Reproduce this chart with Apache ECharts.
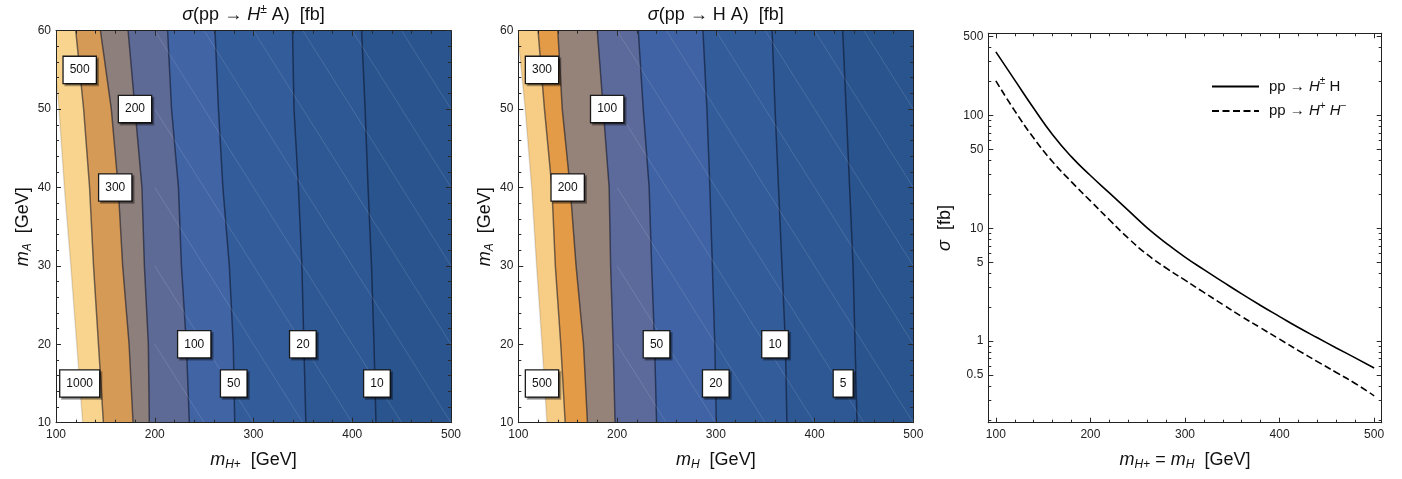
<!DOCTYPE html>
<html><head><meta charset="utf-8">
<script src="https://cdn.jsdelivr.net/npm/echarts@6/dist/echarts.min.js"></script>
<style>html,body{margin:0;padding:0;background:#fff}#c{width:1402px;height:479px}</style>
</head><body><div id="c"></div>
<script>
// ---------------- data ----------------
// contour positions: m_H(+) value [GeV] where each contour crosses m_A = 10,20,...,60
const mASamples = [10, 20, 30, 40, 50, 60];

// Left panel: sigma(pp -> H± A) [fb]
const hcLevels = ['1000', '500', '300', '200', '100', '50', '20', '10'];
const hc1000 = [127, 121, 115, 108.5, 103, 96];
const hc500  = [148, 143, 138, 134, 128, 120];
const hc300  = [178, 174, 167.5, 163, 156, 145];
const hc200  = [194.5, 193.5, 189.5, 187, 180, 173];
const hc100  = [235, 232, 227, 224, 217, 213];
const hc50   = [281, 279.5, 275.5, 269, 264.5, 261];
const hc20   = [353, 351, 349, 345.5, 341, 339.5];
const hc10   = [424, 422, 419.5, 416, 413, 409.5];
// label positions [m_H+, m_A, text]
const hcLabels = [[124, 55, '500'], [180, 50, '200'], [160, 40, '300'], [240, 20, '100'],
                  [350, 20, '20'], [124, 15, '1000'], [280, 15, '50'], [425, 15, '10']];

// Middle panel: sigma(pp -> H A) [fb]
const haLevels = ['500', '300', '200', '100', '50', '20', '10', '5'];
const ha500 = [129, 124, 118.5, 113.5, 107, 99];
const ha300 = [147.5, 143, 137.5, 134, 126.5, 120];
const ha200 = [170, 166, 158.5, 152.5, 144.5, 140];
const ha100 = [198, 196, 193.5, 192, 186, 180];
const ha50  = [240, 238, 235, 232.5, 226.5, 221.5];
const ha20  = [300.5, 299, 296.5, 294, 291, 287];
const ha10  = [372, 370.5, 367, 363.5, 360, 357];
const ha5   = [443, 441, 439, 435.5, 432, 428.5];
const haLabels = [[124, 55, '300'], [190, 50, '100'], [150, 40, '200'], [240, 20, '50'],
                  [360, 20, '10'], [124, 15, '500'], [300, 15, '20'], [429, 15, '5']];

// sampling mesh of the contour plots (faint triangulation lines)
const meshM = [200, 250, 300, 350, 400, 450];
const meshA = [10, 20, 30, 40, 50];

// Right panel: sigma vs m_H+ = m_H
const massPoints = [100, 120, 140, 160, 180, 200, 220, 240, 260, 280, 300, 320, 340, 360, 380, 400, 420, 440, 460, 480, 500];
const sigmaHpH   = [367, 206, 116, 67.5, 43, 29.4, 20.6, 14.4, 10.1, 7.4, 5.56, 4.3, 3.35, 2.62, 2.07, 1.65, 1.32, 1.07, 0.87, 0.71, 0.578];
const sigmaHpHm  = [203, 110, 63.1, 38.9, 25.8, 17.5, 11.9, 8.17, 5.86, 4.45, 3.47, 2.70, 2.11, 1.65, 1.31, 1.04, 0.824, 0.658, 0.527, 0.421, 0.327];

// tick values
const lineXMajor = [100, 200, 300, 400, 500];
const lineXMinor = [120, 140, 160, 180, 220, 240, 260, 280, 320, 340, 360, 380, 420, 440, 460, 480];
const lineYMajor = [0.5, 1, 5, 10, 50, 100, 500];
const lineYMinor = [0.2, 0.3, 0.4, 0.6, 0.7, 0.8, 0.9, 2, 3, 4, 6, 7, 8, 9, 20, 30, 40, 60, 70, 80, 90, 200, 300, 400];

// ---------------- styling ----------------
const FONT = 'Liberation Sans, Arial, sans-serif';
const hcColors = ['#F9D48E', '#D69A57', '#8D7F7C', '#5E6A96', '#4164A5', '#335C9A', '#2E5894', '#2A548E'];
const haColors = ['#F7CD86', '#E39B48', '#958279', '#5C6A9B', '#3F63A4', '#335C9A', '#2E5894', '#2A548E'];
const TICK = '#2a2a2a';

const grids = [
  {left: 56, top: 30.7, width: 395, height: 392},
  {left: 518.3, top: 30.7, width: 395, height: 392},
  {left: 988.3, top: 33.3, width: 393.4, height: 389.4}
];

const base = {fontFamily: FONT, color: '#111', fontWeight: 'normal'};
const rich = {
  n: Object.assign({fontSize: 18, lineHeight: 22}, base),
  i: Object.assign({fontSize: 18, lineHeight: 22, fontStyle: 'italic'}, base),
  sup: Object.assign({fontSize: 12, lineHeight: 12, verticalAlign: 'top'}, base),
  sub: Object.assign({fontSize: 12, lineHeight: 12, verticalAlign: 'bottom'}, base),
  subi: Object.assign({fontSize: 12, lineHeight: 12, verticalAlign: 'bottom', fontStyle: 'italic'}, base)
};
const legendRich = {
  n: Object.assign({fontSize: 15, lineHeight: 20}, base),
  g: Object.assign({fontSize: 15, lineHeight: 20, width: 5}, base),
  i: Object.assign({fontSize: 15, lineHeight: 20, fontStyle: 'italic'}, base),
  sup: Object.assign({fontSize: 10, lineHeight: 12, verticalAlign: 'top'}, base)
};

function contourAxes(g, xName) {
  const common = {
    gridIndex: g, type: 'value', z: 5,
    axisLine: {show: true, lineStyle: {color: '#222', width: 1}},
    splitLine: {show: false},
    axisTick: {show: true, inside: true, length: 5, lineStyle: {color: TICK}},
    minorTick: {show: true, splitNumber: 5, length: 3, lineStyle: {color: TICK}}
  };
  const xb = Object.assign({}, common, {
    min: 100, max: 500, interval: 100, position: 'bottom',
    axisLabel: {color: '#222', fontSize: 12, fontFamily: FONT, margin: 6},
    name: xName, nameLocation: 'middle', nameGap: 26, nameTextStyle: {rich: rich}
  });
  const xt = Object.assign({}, common, {min: 100, max: 500, interval: 100, position: 'top', axisLabel: {show: false}});
  const yl = Object.assign({}, common, {
    min: 10, max: 60, interval: 10, position: 'left',
    axisLabel: {color: '#222', fontSize: 12, fontFamily: FONT, margin: 5},
    name: '{i|m}{subi|A}{n|  [GeV]}', nameLocation: 'middle', nameRotate: 90, nameGap: 22,
    nameTextStyle: {rich: rich}
  });
  const yr = Object.assign({}, common, {min: 10, max: 60, interval: 10, position: 'right', axisLabel: {show: false}});
  return {x: [xb, xt], y: [yl, yr]};
}

const xAxes = [], yAxes = [];
const a0 = contourAxes(0, '{i|m}{subi|H}{sub|+}{n|  [GeV]}');
const a1 = contourAxes(1, '{i|m}{subi|H}{n|  [GeV]}');
xAxes.push(...a0.x, ...a1.x); // 0,1 | 2,3
yAxes.push(...a0.y, ...a1.y); // 0,1 | 2,3

// right panel axes
const lineBase = {gridIndex: 2, z: 5, splitLine: {show: false}, axisLine: {show: true, lineStyle: {color: '#222', width: 1}}};
function lx(pos, vals, len, labels) {
  return Object.assign({}, lineBase, {
    type: 'value', min: 92, max: 508, position: pos,
    axisTick: {inside: true, length: len, customValues: vals, lineStyle: {color: TICK}},
    axisLabel: labels ? {customValues: vals, color: '#222', fontSize: 12, fontFamily: FONT, margin: 6} : {show: false}
  });
}
function ly(pos, vals, len, labels) {
  return Object.assign({}, lineBase, {
    type: 'log', logBase: 10, min: 0.189, max: 536, position: pos,
    axisTick: {inside: true, length: len, customValues: vals, lineStyle: {color: TICK}},
    axisLabel: labels ? {customValues: vals, color: '#222', fontSize: 12, fontFamily: FONT, margin: 5} : {show: false}
  });
}
const xMain = lx('bottom', lineXMajor, 5, true);
Object.assign(xMain, {name: '{i|m}{subi|H}{sub|+}{n| = }{i|m}{subi|H}{n|  [GeV]}', nameLocation: 'middle', nameGap: 26, nameTextStyle: {rich: rich}});
xAxes.push(xMain, lx('bottom', lineXMinor, 3, false), lx('top', lineXMajor, 5, false), lx('top', lineXMinor, 3, false)); // 4..7
const yMain = ly('left', lineYMajor, 5, true);
Object.assign(yMain, {name: '{i|σ}{n|  [fb]}', nameLocation: 'middle', nameRotate: 90, nameGap: 32, nameTextStyle: {rich: rich}});
yAxes.push(yMain, ly('left', lineYMinor, 3, false), ly('right', lineYMajor, 5, false), ly('right', lineYMinor, 3, false)); // 4..7

function contourSeries(xi, yi, contours, colors) {
  return {
    type: 'custom', xAxisIndex: xi, yAxisIndex: yi, clip: true, silent: true, z: 2,
    data: contours.map((c, k) => [c[0], mASamples[0], k]),
    renderItem: function (params, api) {
      const k = params.dataIndex;
      const c = contours[k];
      const edge = [], right = [];
      for (let j = 0; j < mASamples.length; j++) edge.push(api.coord([c[j], mASamples[j]]));
      for (let j = mASamples.length - 1; j >= 0; j--) right.push(api.coord([500, mASamples[j]]));
      return {
        type: 'group',
        children: [
          {type: 'polygon', shape: {points: edge.concat(right)}, style: {fill: colors[k]}},
          {type: 'polyline', shape: {points: edge},
           style: {fill: null, stroke: k === 0 ? 'rgba(0,0,0,0.12)' : 'rgba(10,15,35,0.55)', lineWidth: 1.5}}
        ]
      };
    }
  };
}

function meshSeries(xi, yi) {
  const cells = [];
  meshM.forEach(m => meshA.forEach(a => { cells.push([m, a]); }));
  return {
    type: 'custom', xAxisIndex: xi, yAxisIndex: yi, clip: true, silent: true, z: 3,
    encode: {x: 0, y: 1},
    data: cells,
    renderItem: function (params, api) {
      const m = api.value(0), a = api.value(1);
      const p0 = api.coord([m, a + 10]), p1 = api.coord([m + 50, a]);
      return {type: 'line', shape: {x1: p0[0], y1: p0[1], x2: p1[0], y2: p1[1]},
              style: {stroke: 'rgba(255,255,255,0.16)', lineWidth: 0.8}};
    }
  };
}

function labelSeries(xi, yi, labels) {
  return {
    type: 'scatter', xAxisIndex: xi, yAxisIndex: yi, z: 6, silent: true,
    symbolSize: 0, itemStyle: {color: '#ffffff', opacity: 1},
    data: labels,
    label: {
      show: true, position: 'inside', formatter: p => p.value[2],
      color: '#111', fontSize: 12, fontFamily: FONT, lineHeight: 14, opacity: 1,
      backgroundColor: '#ffffff', borderColor: '#1a1a1a', borderWidth: 1.3,
      padding: [6, 6, 6, 6],
      shadowColor: 'rgba(0,0,0,0.35)', shadowOffsetX: 2, shadowOffsetY: 2, shadowBlur: 0
    },
    emphasis: {disabled: true}
  };
}

const series = [
  contourSeries(0, 0, [hc1000, hc500, hc300, hc200, hc100, hc50, hc20, hc10], hcColors),
  meshSeries(0, 0),
  labelSeries(0, 0, hcLabels),
  contourSeries(2, 2, [ha500, ha300, ha200, ha100, ha50, ha20, ha10, ha5], haColors),
  meshSeries(2, 2),
  labelSeries(2, 2, haLabels),
  {
    name: 'hpH', type: 'line', xAxisIndex: 4, yAxisIndex: 4, symbol: 'none', showSymbol: false,
    smooth: 0.5,
    data: massPoints.map((m, i) => [m, sigmaHpH[i]]),
    lineStyle: {color: '#000', width: 1.6}, itemStyle: {color: '#000'}
  },
  {
    name: 'hpm', type: 'line', xAxisIndex: 4, yAxisIndex: 4, symbol: 'none', showSymbol: false,
    smooth: 0.5,
    data: massPoints.map((m, i) => [m, sigmaHpHm[i]]),
    lineStyle: {color: '#000', width: 1.6, type: [7, 3.5]}, itemStyle: {color: '#000'}
  }
];

const chart = echarts.init(document.getElementById('c'), null, {renderer: 'canvas'});
chart.setOption({
  animation: false,
  backgroundColor: '#fff',
  textStyle: {fontFamily: FONT},
  title: [
    {text: '{i|σ}{n|(pp → }{i|H}{sup|±}{n| A)  [fb]}', left: 253.5, top: 4, textAlign: 'center',
     textStyle: {rich: rich, fontWeight: 'normal'}, padding: 0},
    {text: '{i|σ}{n|(pp → H A)  [fb]}', left: 715.8, top: 4, textAlign: 'center',
     textStyle: {rich: rich, fontWeight: 'normal'}, padding: 0}
  ],
  legend: {
    orient: 'vertical', left: 1211, top: 76.5, itemWidth: 47, itemHeight: 14, itemGap: 7,
    padding: 0,
    itemStyle: {opacity: 0},
    data: ['hpH', 'hpm'],
    formatter: function (name) {
      return name === 'hpH'
        ? '{g|}{n|pp → }{i|H}{sup|±}{n| H}'
        : '{g|}{n|pp → }{i|H}{sup|+}{n| }{i|H}{sup|−}';
    },
    textStyle: {rich: legendRich}
  },
  grid: grids.map(g => Object.assign({show: false, containLabel: false}, g)),
  xAxis: xAxes,
  yAxis: yAxes,
  series: series
});
</script>
</body></html>
